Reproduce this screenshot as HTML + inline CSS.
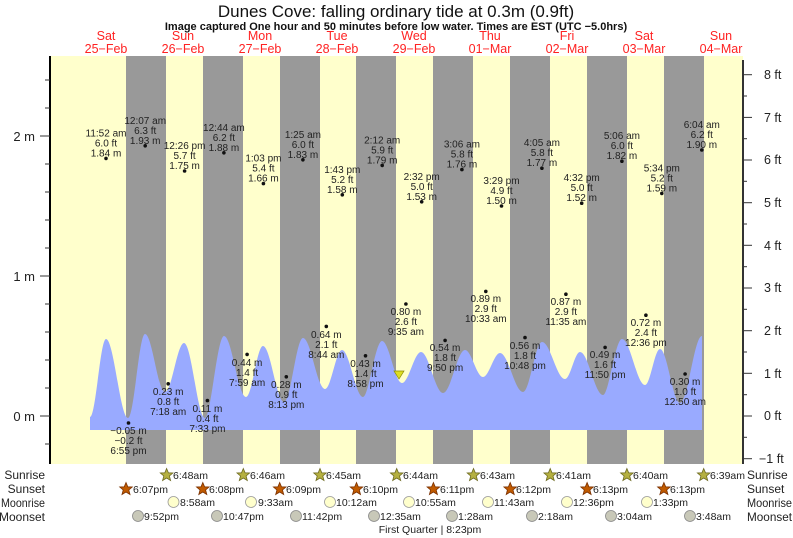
<!DOCTYPE html>
<html><head><meta charset="utf-8"><style>
html,body{margin:0;padding:0;background:#fff;}
svg{display:block;font-family:"Liberation Sans",Arial,sans-serif;}
.v{font-size:10px;fill:#222;text-anchor:middle;}
.ev{font-size:10.5px;fill:#222;}
.rl{font-size:12px;fill:#222;}
</style></head><body>
<svg width="793" height="538" viewBox="0 0 793 538" xmlns="http://www.w3.org/2000/svg">
<rect x="0" y="0" width="793" height="538" fill="#fff"/>
<text x="396" y="17" font-size="17" text-anchor="middle" fill="#111">Dunes Cove: falling  ordinary tide at 0.3m (0.9ft)</text>
<text x="396" y="30" font-size="11" font-weight="bold" text-anchor="middle" fill="#111">Image captured One hour and 50 minutes before low water. Times are EST (UTC −5.0hrs)</text>
<g font-size="12.5" fill="#f22" text-anchor="middle">
<text x="106" y="40">Sat</text><text x="106" y="53">25−Feb</text>
<text x="183" y="40">Sun</text><text x="183" y="53">26−Feb</text>
<text x="260" y="40">Mon</text><text x="260" y="53">27−Feb</text>
<text x="337" y="40">Tue</text><text x="337" y="53">28−Feb</text>
<text x="414" y="40">Wed</text><text x="414" y="53">29−Feb</text>
<text x="490" y="40">Thu</text><text x="490" y="53">01−Mar</text>
<text x="567" y="40">Fri</text><text x="567" y="53">02−Mar</text>
<text x="644" y="40">Sat</text><text x="644" y="53">03−Mar</text>
<text x="721" y="40">Sun</text><text x="721" y="53">04−Mar</text>
</g>
<rect x="50" y="56" width="693" height="408" fill="#ffffcc"/>
<g fill="#999999">
<rect x="126" y="56" width="40" height="408"/>
<rect x="203" y="56" width="40" height="408"/>
<rect x="280" y="56" width="40" height="408"/>
<rect x="356" y="56" width="40" height="408"/>
<rect x="433" y="56" width="40" height="408"/>
<rect x="510" y="56" width="40" height="408"/>
<rect x="587" y="56" width="40" height="408"/>
<rect x="664" y="56" width="40" height="408"/>
</g>
<path fill="#99aaff" d="M90,417 C95.8,417 100.2,339 106,339 C113.9,339 120.1,418 128,418 C134.1,418 138.9,334 145,334 C152.2,334 157.8,392 165,392 C171.8,392 177.2,343 184,343 C191.6,343 197.4,418 205,418 C210.8,418 217.2,336 224,336 C231.9,336 238.1,397 246,397 C252.1,397 256.9,346 263,346 C270.6,346 276.4,402 284,402 C290.8,402 296.2,338 303,338 C310.9,338 317.1,389 325,389 C331.1,389 335.9,350 342,350 C349.6,350 355.4,397 363,397 C368.8,397 375.2,341 382,341 C389.2,341 394.8,383 402,383 C408.8,383 414.2,352 421,352 C428.9,352 435.1,393 443,393 C450.9,393 457.1,350 465,350 C471.5,350 476.5,377 483,377 C489.1,377 493.9,353 500,353 C508.3,353 514.7,392 523,392 C529.8,392 535.2,342 542,342 C550.3,342 556.7,379 565,379 C570.4,379 574.6,352 580,352 C588.3,352 594.7,395 603,395 C608.8,395 615.2,339 622,339 C630.3,339 636.7,385 645,385 C650.4,385 654.6,349 660,349 C667.2,349 672.8,403 680,403 C687.9,403 694.1,336 702,336 L702,430 L90,430 Z"/>
<polygon points="394,371 404,371 399,379" fill="#dddd22" stroke="#888800" stroke-width="0.7"/>
<line x1="50" y1="56" x2="50" y2="464" stroke="#000" stroke-width="2"/>
<line x1="743" y1="60" x2="743" y2="464" stroke="#333" stroke-width="2"/>
<g stroke="#333" stroke-width="1">
<line x1="40" y1="416" x2="50" y2="416"/><line x1="40" y1="276" x2="50" y2="276"/><line x1="40" y1="136" x2="50" y2="136"/>
<line x1="45" y1="444" x2="50" y2="444"/><line x1="45" y1="388" x2="50" y2="388"/><line x1="45" y1="360" x2="50" y2="360"/><line x1="45" y1="332" x2="50" y2="332"/><line x1="45" y1="304" x2="50" y2="304"/><line x1="45" y1="248" x2="50" y2="248"/><line x1="45" y1="220" x2="50" y2="220"/><line x1="45" y1="192" x2="50" y2="192"/><line x1="45" y1="164" x2="50" y2="164"/><line x1="45" y1="108" x2="50" y2="108"/><line x1="45" y1="80" x2="50" y2="80"/>
<line x1="743" y1="458.7" x2="752" y2="458.7"/><line x1="743" y1="416" x2="752" y2="416"/><line x1="743" y1="373.3" x2="752" y2="373.3"/><line x1="743" y1="330.7" x2="752" y2="330.7"/><line x1="743" y1="288" x2="752" y2="288"/><line x1="743" y1="245.3" x2="752" y2="245.3"/><line x1="743" y1="202.7" x2="752" y2="202.7"/><line x1="743" y1="160" x2="752" y2="160"/><line x1="743" y1="117.4" x2="752" y2="117.4"/><line x1="743" y1="74.7" x2="752" y2="74.7"/>
<line x1="743" y1="437.3" x2="747" y2="437.3"/><line x1="743" y1="394.7" x2="747" y2="394.7"/><line x1="743" y1="352" x2="747" y2="352"/><line x1="743" y1="309.3" x2="747" y2="309.3"/><line x1="743" y1="266.7" x2="747" y2="266.7"/><line x1="743" y1="224" x2="747" y2="224"/><line x1="743" y1="181.3" x2="747" y2="181.3"/><line x1="743" y1="138.7" x2="747" y2="138.7"/><line x1="743" y1="96" x2="747" y2="96"/>
</g>
<g font-size="13" fill="#222" text-anchor="end">
<text x="35" y="421">0 m</text><text x="35" y="281">1 m</text><text x="35" y="141">2 m</text>
</g>
<g font-size="12.5" fill="#222">
<text x="759" y="463">−1 ft</text><text x="764" y="420">0 ft</text><text x="764" y="378">1 ft</text><text x="764" y="335">2 ft</text><text x="764" y="292">3 ft</text><text x="764" y="250">4 ft</text><text x="764" y="207">5 ft</text><text x="764" y="164">6 ft</text><text x="764" y="122">7 ft</text><text x="764" y="79">8 ft</text>
</g>
<g fill="#111">
<circle cx="106" cy="158.4" r="1.8"/><circle cx="145.2" cy="145.8" r="1.8"/><circle cx="184.6" cy="171" r="1.8"/><circle cx="223.9" cy="152.8" r="1.8"/><circle cx="263.4" cy="183.6" r="1.8"/><circle cx="302.9" cy="159.8" r="1.8"/><circle cx="342.3" cy="194.8" r="1.8"/><circle cx="382.2" cy="165.4" r="1.8"/><circle cx="421.7" cy="201.8" r="1.8"/><circle cx="461.9" cy="169.6" r="1.8"/><circle cx="501.5" cy="206" r="1.8"/><circle cx="541.9" cy="168.2" r="1.8"/><circle cx="581.7" cy="203.2" r="1.8"/><circle cx="621.9" cy="161.2" r="1.8"/><circle cx="661.8" cy="193.4" r="1.8"/><circle cx="701.8" cy="150" r="1.8"/>
<circle cx="128.5" cy="423" r="1.8"/><circle cx="168.2" cy="383.8" r="1.8"/><circle cx="207.4" cy="400.6" r="1.8"/><circle cx="247.1" cy="354.4" r="1.8"/><circle cx="286.3" cy="376.8" r="1.8"/><circle cx="326.3" cy="326.4" r="1.8"/><circle cx="365.5" cy="355.8" r="1.8"/><circle cx="405.9" cy="304" r="1.8"/><circle cx="445.1" cy="340.4" r="1.8"/><circle cx="485.8" cy="291.4" r="1.8"/><circle cx="525" cy="337.6" r="1.8"/><circle cx="565.9" cy="294.2" r="1.8"/><circle cx="605.1" cy="347.4" r="1.8"/><circle cx="645.9" cy="315.2" r="1.8"/><circle cx="685.1" cy="374" r="1.8"/>
</g>
<g class="v">
<text x="106" y="136.4">11:52 am</text><text x="106" y="146.4">6.0 ft</text><text x="106" y="156.4">1.84 m</text>
<text x="145.2" y="123.8">12:07 am</text><text x="145.2" y="133.8">6.3 ft</text><text x="145.2" y="143.8">1.93 m</text>
<text x="184.6" y="149">12:26 pm</text><text x="184.6" y="159">5.7 ft</text><text x="184.6" y="169">1.75 m</text>
<text x="223.9" y="130.8">12:44 am</text><text x="223.9" y="140.8">6.2 ft</text><text x="223.9" y="150.8">1.88 m</text>
<text x="263.4" y="161.6">1:03 pm</text><text x="263.4" y="171.6">5.4 ft</text><text x="263.4" y="181.6">1.66 m</text>
<text x="302.9" y="137.8">1:25 am</text><text x="302.9" y="147.8">6.0 ft</text><text x="302.9" y="157.8">1.83 m</text>
<text x="342.3" y="172.8">1:43 pm</text><text x="342.3" y="182.8">5.2 ft</text><text x="342.3" y="192.8">1.58 m</text>
<text x="382.2" y="143.4">2:12 am</text><text x="382.2" y="153.4">5.9 ft</text><text x="382.2" y="163.4">1.79 m</text>
<text x="421.7" y="179.8">2:32 pm</text><text x="421.7" y="189.8">5.0 ft</text><text x="421.7" y="199.8">1.53 m</text>
<text x="461.9" y="147.6">3:06 am</text><text x="461.9" y="157.6">5.8 ft</text><text x="461.9" y="167.6">1.76 m</text>
<text x="501.5" y="184">3:29 pm</text><text x="501.5" y="194">4.9 ft</text><text x="501.5" y="204">1.50 m</text>
<text x="541.9" y="146.2">4:05 am</text><text x="541.9" y="156.2">5.8 ft</text><text x="541.9" y="166.2">1.77 m</text>
<text x="581.7" y="181.2">4:32 pm</text><text x="581.7" y="191.2">5.0 ft</text><text x="581.7" y="201.2">1.52 m</text>
<text x="621.9" y="139.2">5:06 am</text><text x="621.9" y="149.2">6.0 ft</text><text x="621.9" y="159.2">1.82 m</text>
<text x="661.8" y="171.4">5:34 pm</text><text x="661.8" y="181.4">5.2 ft</text><text x="661.8" y="191.4">1.59 m</text>
<text x="701.8" y="128">6:04 am</text><text x="701.8" y="138">6.2 ft</text><text x="701.8" y="148">1.90 m</text>
<text x="128.5" y="434">−0.05 m</text><text x="128.5" y="444">−0.2 ft</text><text x="128.5" y="454">6:55 pm</text>
<text x="168.2" y="395">0.23 m</text><text x="168.2" y="405">0.8 ft</text><text x="168.2" y="415">7:18 am</text>
<text x="207.4" y="412">0.11 m</text><text x="207.4" y="422">0.4 ft</text><text x="207.4" y="432">7:33 pm</text>
<text x="247.1" y="366">0.44 m</text><text x="247.1" y="376">1.4 ft</text><text x="247.1" y="386">7:59 am</text>
<text x="286.3" y="388">0.28 m</text><text x="286.3" y="398">0.9 ft</text><text x="286.3" y="408">8:13 pm</text>
<text x="326.3" y="338">0.64 m</text><text x="326.3" y="348">2.1 ft</text><text x="326.3" y="358">8:44 am</text>
<text x="365.5" y="367">0.43 m</text><text x="365.5" y="377">1.4 ft</text><text x="365.5" y="387">8:58 pm</text>
<text x="405.9" y="315">0.80 m</text><text x="405.9" y="325">2.6 ft</text><text x="405.9" y="335">9:35 am</text>
<text x="445.1" y="351">0.54 m</text><text x="445.1" y="361">1.8 ft</text><text x="445.1" y="371">9:50 pm</text>
<text x="485.8" y="302">0.89 m</text><text x="485.8" y="312">2.9 ft</text><text x="485.8" y="322">10:33 am</text>
<text x="525" y="349">0.56 m</text><text x="525" y="359">1.8 ft</text><text x="525" y="369">10:48 pm</text>
<text x="565.9" y="305">0.87 m</text><text x="565.9" y="315">2.9 ft</text><text x="565.9" y="325">11:35 am</text>
<text x="605.1" y="358">0.49 m</text><text x="605.1" y="368">1.6 ft</text><text x="605.1" y="378">11:50 pm</text>
<text x="645.9" y="326">0.72 m</text><text x="645.9" y="336">2.4 ft</text><text x="645.9" y="346">12:36 pm</text>
<text x="685.1" y="385">0.30 m</text><text x="685.1" y="395">1.0 ft</text><text x="685.1" y="405">12:50 am</text>
</g>
<g class="rl" text-anchor="end">
<text x="45" y="479">Sunrise</text><text x="45" y="493">Sunset</text><text x="45" y="507" textLength="44" lengthAdjust="spacingAndGlyphs">Moonrise</text><text x="45" y="521">Moonset</text>
</g>
<g class="rl">
<text x="747" y="479">Sunrise</text><text x="747" y="493">Sunset</text><text x="747" y="507" textLength="45" lengthAdjust="spacingAndGlyphs">Moonrise</text><text x="747" y="521" textLength="45" lengthAdjust="spacingAndGlyphs">Moonset</text>
</g>
<defs>
<polygon id="st" points="0,-6.5 1.8,-2.2 6.3,-2 2.8,1 4,5.5 0,3 -4,5.5 -2.8,1 -6.3,-2 -1.8,-2.2"/>
</defs>
<g fill="#b5b040" stroke="#6d6a20" stroke-width="0.8">
<use href="#st" x="166.6" y="475"/><use href="#st" x="243.3" y="475"/><use href="#st" x="320" y="475"/><use href="#st" x="396.7" y="475"/><use href="#st" x="473.5" y="475"/><use href="#st" x="550.2" y="475"/><use href="#st" x="626.9" y="475"/><use href="#st" x="703.7" y="475"/>
</g>
<g fill="#c05a00" stroke="#7a3000" stroke-width="0.8">
<use href="#st" x="126" y="489"/><use href="#st" x="202.8" y="489"/><use href="#st" x="279.7" y="489"/><use href="#st" x="356.5" y="489"/><use href="#st" x="433.4" y="489"/><use href="#st" x="510.2" y="489"/><use href="#st" x="587.1" y="489"/><use href="#st" x="663.9" y="489"/>
</g>
<g class="ev">
<text x="173" y="479">6:48am</text><text x="250" y="479">6:46am</text><text x="326" y="479">6:45am</text><text x="403" y="479">6:44am</text><text x="480" y="479">6:43am</text><text x="556" y="479">6:41am</text><text x="633" y="479">6:40am</text><text x="710" y="479">6:39am</text>
<text x="133" y="493">6:07pm</text><text x="209" y="493">6:08pm</text><text x="286" y="493">6:09pm</text><text x="363" y="493">6:10pm</text><text x="440" y="493">6:11pm</text><text x="516" y="493">6:12pm</text><text x="593" y="493">6:13pm</text><text x="670" y="493">6:13pm</text>
</g>
<g fill="#ffffcc" stroke="#999" stroke-width="0.8">
<circle cx="173.5" cy="502" r="5.5"/><circle cx="251" cy="502" r="5.5"/><circle cx="330" cy="502" r="5.5"/><circle cx="409" cy="502" r="5.5"/><circle cx="488" cy="502" r="5.5"/><circle cx="567" cy="502" r="5.5"/><circle cx="647" cy="502" r="5.5"/>
</g>
<g fill="#c8c8b8" stroke="#888" stroke-width="0.8">
<circle cx="138" cy="516" r="5.5"/><circle cx="217" cy="516" r="5.5"/><circle cx="296" cy="516" r="5.5"/><circle cx="374" cy="516" r="5.5"/><circle cx="452" cy="516" r="5.5"/><circle cx="532" cy="516" r="5.5"/><circle cx="611" cy="516" r="5.5"/><circle cx="690" cy="516" r="5.5"/>
</g>
<g class="ev">
<text x="180" y="506">8:58am</text><text x="258" y="506">9:33am</text><text x="336" y="506">10:12am</text><text x="415" y="506">10:55am</text><text x="494" y="506">11:43am</text><text x="573" y="506">12:36pm</text><text x="653" y="506">1:33pm</text>
<text x="144" y="520">9:52pm</text><text x="223" y="520">10:47pm</text><text x="302" y="520">11:42pm</text><text x="380" y="520">12:35am</text><text x="458" y="520">1:28am</text><text x="538" y="520">2:18am</text><text x="617" y="520">3:04am</text><text x="696" y="520">3:48am</text>
<text x="430" y="533" text-anchor="middle">First Quarter | 8:23pm</text>
</g>
</svg>
</body></html>
